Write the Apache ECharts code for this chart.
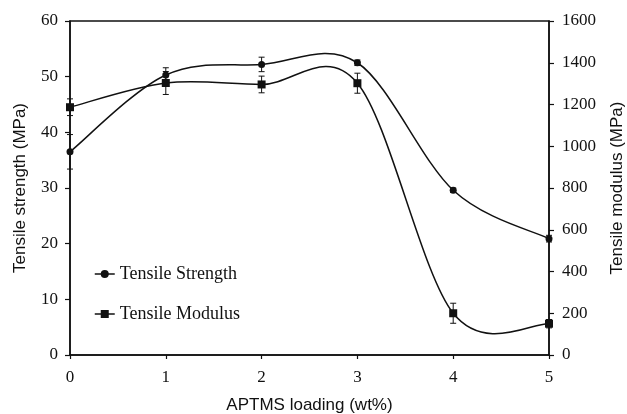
<!DOCTYPE html>
<html><head><meta charset="utf-8">
<script src="https://cdn.jsdelivr.net/npm/echarts@6/dist/echarts.min.js"></script>
<style>html,body{margin:0;padding:0;background:#fff}#c{width:627px;height:414px}</style>
</head><body><div id="c"></div>
<script>
const loading = [0, 1, 2, 3, 4, 5];
const strength = [36.5, 50.3, 52.2, 52.5, 29.6, 20.9];
const strengthErr = [3.1, 1.3, 1.3, 0.5, 0.4, 0.6];
const modulus = [1187, 1303, 1296, 1302, 200, 150];
const modulusErr = [40, 55, 40, 48, 48, 20];
const xTicks = [0, 1, 2, 3, 4, 5];

const serif = '"Liberation Serif","Times New Roman",serif';
const sans = '"Liberation Sans",Arial,sans-serif';
const ink = '#111';

function pairs(ys){ return loading.map((x,i)=>[x, ys[i]]); }
function errData(ys, es){ return loading.map((x,i)=>[x, ys[i]-es[i], ys[i]+es[i]]); }

function errRender(params, api){
  const x = api.value(0);
  const lo = api.coord([x, api.value(1)]);
  const hi = api.coord([x, api.value(2)]);
  const w = 3;
  const st = {stroke: ink, lineWidth: 1};
  return {type:'group', children:[
    {type:'line', shape:{x1:lo[0], y1:lo[1], x2:hi[0], y2:hi[1]}, style:st},
    {type:'line', shape:{x1:lo[0]-w, y1:lo[1], x2:lo[0]+w, y2:lo[1]}, style:st},
    {type:'line', shape:{x1:hi[0]-w, y1:hi[1], x2:hi[0]+w, y2:hi[1]}, style:st}
  ]};
}

// Smoothed curve (spreadsheet-style Catmull-Rom) through the data points, in screen space.
function curveRender(ys){
  return function(params, api){
    if (params.dataIndex !== 0) return null;
    const p = loading.map((x,i)=>api.coord([x, ys[i]]));
    const n = p.length, k = 1/6, kids = [];
    for (let i = 0; i < n - 1; i++) {
      const a = p[Math.max(i-1,0)], b = p[i], c = p[i+1], d = p[Math.min(i+2,n-1)];
      kids.push({type:'bezierCurve', shape:{
        x1:b[0], y1:b[1], x2:c[0], y2:c[1],
        cpx1:b[0]+(c[0]-a[0])*k, cpy1:b[1]+(c[1]-a[1])*k,
        cpx2:c[0]-(d[0]-b[0])*k, cpy2:c[1]-(d[1]-b[1])*k
      }, style:{stroke:ink, lineWidth:1.5, fill:null}});
    }
    return {type:'group', children:kids};
  };
}

const chart = echarts.init(document.getElementById('c'), null, {renderer:'canvas'});
chart.setOption({
  animation: false,
  backgroundColor: '#fff',
  grid: {left: 70, right: 78, top: 21, bottom: 59, show: true, borderColor: ink, borderWidth: 1.5,
         containLabel: false, outerBoundsMode: 'none'},
  legend: {
    orient: 'vertical', left: 89, top: 260, itemWidth: 20, itemHeight: 10, itemGap: 22,
    textStyle: {fontFamily: serif, fontSize: 18, color: ink},
    lineStyle: {opacity: 1, color: ink, width: 1.5},
    data: ['Tensile Strength', 'Tensile Modulus']
  },
  xAxis: {
    type: 'value', min: 0, max: 5, interval: 1,
    name: 'APTMS loading (wt%)', nameLocation: 'middle', nameGap: 42,
    nameTextStyle: {fontFamily: sans, fontSize: 17, color: ink},
    axisLine: {show: true, lineStyle: {color: ink, width: 1.5}},
    axisTick: {show: true, length: 4, lineStyle: {color: ink, width: 1.2}},
    axisLabel: {fontFamily: serif, fontSize: 17, color: ink, margin: 14,
      formatter: v => xTicks.includes(v) ? String(v) : ''},
    splitLine: {show: false}
  },
  yAxis: [{
    type: 'value', min: 0, max: 60, interval: 10, position: 'left',
    name: 'Tensile strength (MPa)', nameLocation: 'middle', nameGap: 41, nameRotate: 90,
    nameTextStyle: {fontFamily: sans, fontSize: 17, color: ink},
    axisLine: {show: true, lineStyle: {color: ink, width: 1.5}},
    axisTick: {show: true, length: 5, lineStyle: {color: ink, width: 1.2}},
    axisLabel: {fontFamily: serif, fontSize: 17, color: ink, margin: 12, formatter: v => String(v)},
    splitLine: {show: false}
  }, {
    type: 'value', min: 0, max: 1600, interval: 200, position: 'right',
    name: 'Tensile modulus (MPa)', nameLocation: 'middle', nameGap: 60, nameRotate: 90,
    nameTextStyle: {fontFamily: sans, fontSize: 17, color: ink},
    axisLine: {show: true, lineStyle: {color: ink, width: 1.5}},
    axisTick: {show: true, length: 5, lineStyle: {color: ink, width: 1.2}},
    axisLabel: {fontFamily: serif, fontSize: 17, color: ink, margin: 13, formatter: v => String(v)},
    splitLine: {show: false}
  }],
  series: [{
    name: 'Tensile Strength', type: 'line', yAxisIndex: 0,
    data: pairs(strength), symbol: 'circle', symbolSize: 7,
    lineStyle: {color: ink, width: 1.5, opacity: 0}, itemStyle: {color: ink}, z: 4
  }, {
    name: 'Tensile Modulus', type: 'line', yAxisIndex: 1,
    data: pairs(modulus), symbol: 'rect', symbolSize: 8,
    lineStyle: {color: ink, width: 1.5, opacity: 0}, itemStyle: {color: ink}, z: 4
  }, {
    type: 'custom', yAxisIndex: 0, renderItem: curveRender(strength),
    data: pairs(strength), encode: {x: 0, y: 1}, z: 3, silent: true
  }, {
    type: 'custom', yAxisIndex: 1, renderItem: curveRender(modulus),
    data: pairs(modulus), encode: {x: 0, y: 1}, z: 3, silent: true
  }, {
    type: 'custom', yAxisIndex: 0, renderItem: errRender,
    data: errData(strength, strengthErr), encode: {x: 0, y: [1, 2]}, z: 2, silent: true
  }, {
    type: 'custom', yAxisIndex: 1, renderItem: errRender,
    data: errData(modulus, modulusErr), encode: {x: 0, y: [1, 2]}, z: 2, silent: true
  }]
});
</script>
</body></html>
